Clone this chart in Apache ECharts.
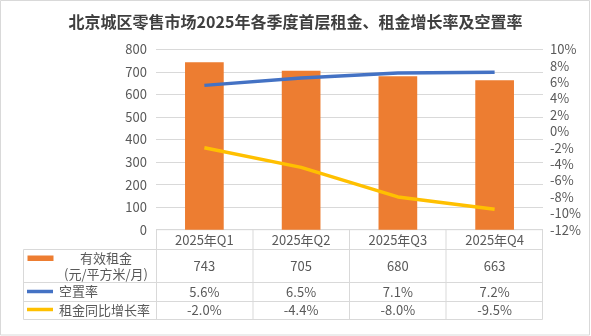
<!DOCTYPE html>
<html><head><meta charset="utf-8">
<script src="https://cdn.jsdelivr.net/npm/echarts@6/dist/echarts.min.js"></script>
<style>html,body{margin:0;padding:0;background:#fff}#c{width:591px;height:336px}</style>
</head><body><div id="c"></div>
<script>
const titleText = '北京城区零售市场2025年各季度首层租金、租金增长率及空置率';
const categories = ['2025年Q1','2025年Q2','2025年Q3','2025年Q4'];
const rentName = '有效租金';
const rentUnit = '(元/平方米/月)';
const vacancyName = '空置率';
const growthName = '租金同比增长率';
const rent = [743, 705, 680, 663];
const vacancy = [5.6, 6.5, 7.1, 7.2];
const growth = [-2.0, -4.4, -8.0, -9.5];

const FONT = '"Noto Sans CJK SC", "Microsoft YaHei", sans-serif';
const TXT = '#595959';
const LINE = '#d9d9d9';
const chart = echarts.init(document.getElementById('c'));
const option = {
  animation: false,
  backgroundColor: '#fff',
  title: { text: titleText, left: 'center', top: 9,
    textStyle: { fontSize: 16, fontWeight: 'bold', color: '#3f3f3f', fontFamily: FONT } },
  grid: { left: 156, right: 48, top: 49.3, height: 180.4 },
  xAxis: { type: 'category', data: categories,
    axisLine: { show: false }, axisTick: { show: false }, axisLabel: { show: false } },
  yAxis: [
    { type: 'value', min: 0, max: 800, interval: 100,
      axisLabel: { color: TXT, fontSize: 13, fontFamily: FONT, margin: 9 },
      splitLine: { lineStyle: { color: LINE, width: 1 } },
      axisLine: { show: false }, axisTick: { show: false } },
    { type: 'value', min: -12, max: 10, interval: 2,
      axisLabel: { color: TXT, fontSize: 13, fontFamily: FONT, margin: 7, formatter: '{value}%' },
      splitLine: { show: false }, axisLine: { show: false }, axisTick: { show: false } }
  ],
  series: [
    { name: rentName, type: 'bar', data: rent, barWidth: '40%', itemStyle: { color: '#ED7D31' }, yAxisIndex: 0 },
    { name: vacancyName, type: 'line', data: vacancy, yAxisIndex: 1, showSymbol: false, symbol: 'none',
      lineStyle: { color: '#4472C4', width: 3.5 } },
    { name: growthName, type: 'line', data: growth, yAxisIndex: 1, showSymbol: false, symbol: 'none',
      lineStyle: { color: '#FFC000', width: 3.5 } }
  ]
};
chart.setOption(option);

// Data table built from arrays via the chart's scales
const x0 = chart.convertToPixel({gridIndex:0}, [0,0]);
const yAxisBottom = chart.convertToPixel({yAxisIndex:0}, 0);
const gLeft = 156.5, gRight = 542.5;
const step = (gRight - gLeft) / categories.length;
const tableLeft = 23.5;
const rows = [yAxisBottom, 249.5, 282.5, 301.5, 319.5];
const els = [];
const ln = (x1,y1,x2,y2) => els.push({type:'line', shape:{x1,y1,x2,y2}, style:{stroke:LINE, lineWidth:1}, silent:true});
const tx = (text,x,y,align) => els.push({type:'text', x, y, style:{text, fill:TXT, font:'13px '+FONT, textAlign:align||'center', textVerticalAlign:'middle'}, silent:true});
// horizontal
ln(gLeft, rows[0], gRight, rows[0]);
for (let i=1;i<rows.length;i++) ln(tableLeft, rows[i], gRight, rows[i]);
// vertical
ln(tableLeft, rows[1], tableLeft, rows[4]);
for (let i=0;i<=categories.length;i++) ln(gLeft+step*i, rows[0], gLeft+step*i, rows[4]);
// header and values
categories.forEach((c,i)=>{
  const cx = chart.convertToPixel({xAxisIndex:0}, c);
  tx(c, cx, (rows[0]+rows[1])/2);
  tx(String(rent[i]), cx, (rows[1]+rows[2])/2);
  tx(vacancy[i].toFixed(1)+'%', cx, (rows[2]+rows[3])/2);
  tx(growth[i].toFixed(1)+'%', cx, (rows[3]+rows[4])/2);
});
// legend column
els.push({type:'rect', shape:{x:27.5,y:255.5,width:26,height:5.5}, style:{fill:'#ED7D31'}, silent:true});
tx(rentName, 106, 258);
tx(rentUnit, 106, 274);
els.push({type:'line', shape:{x1:27,y1:291.5,x2:53,y2:291.5}, style:{stroke:'#4472C4', lineWidth:3.5}, silent:true});
tx(vacancyName, 59, 291.5, 'left');
els.push({type:'line', shape:{x1:27,y1:309.5,x2:53,y2:309.5}, style:{stroke:'#FFC000', lineWidth:3.5}, silent:true});
tx(growthName, 59, 310, 'left');
// outer border
els.push({type:'rect', shape:{x:0.5,y:0.5,width:589,height:334.5}, style:{fill:null, stroke:LINE, lineWidth:1}, silent:true, z:-1});
chart.setOption({graphic: els});
</script></body></html>
